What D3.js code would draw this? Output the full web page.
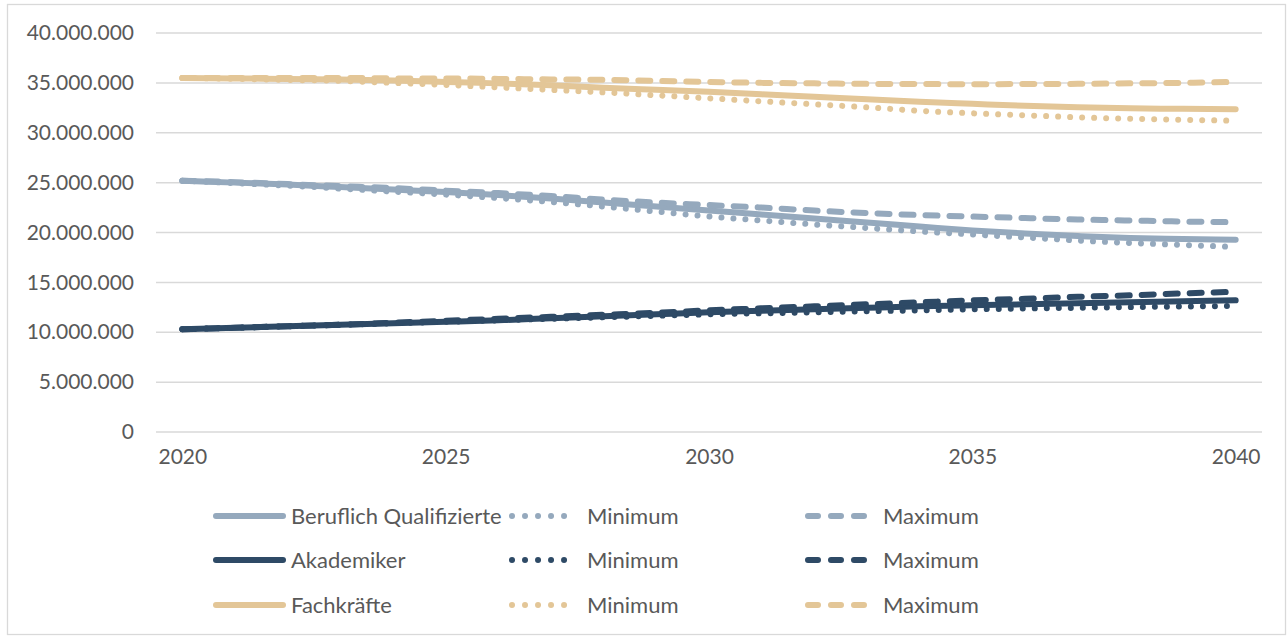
<!DOCTYPE html>
<html>
<head>
<meta charset="utf-8">
<script src="https://cdn.jsdelivr.net/npm/d3@7"></script>
<style>
  body { margin: 0; background: #fff; }
  text { font-family: Lato, "Open Sans", sans-serif; fill: #595959; }
</style>
</head>
<body>
<svg id="chart"></svg>
<script>
// years on the x axis
var years = d3.range(2020, 2041);
var yearLabels = [2020, 2025, 2030, 2035, 2040];
var yTicks = [0, 5e6, 10e6, 15e6, 20e6, 25e6, 30e6, 35e6, 40e6];

// values in millions
var berufMain = [25.2, 25.0, 24.8, 24.55, 24.3, 24.05, 23.75, 23.4, 23.0, 22.6, 22.2, 21.8, 21.4, 21.0, 20.6, 20.2, 19.9, 19.65, 19.45, 19.35, 19.27];
var berufMin  = [25.2, 24.95, 24.7, 24.4, 24.1, 23.8, 23.45, 23.05, 22.6, 22.1, 21.6, 21.2, 20.8, 20.45, 20.1, 19.8, 19.5, 19.2, 18.95, 18.75, 18.55];
var berufMax  = [25.2, 25.05, 24.85, 24.65, 24.45, 24.2, 23.95, 23.65, 23.3, 23.0, 22.75, 22.5, 22.2, 21.95, 21.75, 21.6, 21.45, 21.3, 21.2, 21.1, 21.03];

var akadMain = [10.3, 10.45, 10.6, 10.75, 10.9, 11.05, 11.2, 11.4, 11.6, 11.8, 12.0, 12.15, 12.3, 12.45, 12.6, 12.7, 12.8, 12.9, 13.0, 13.1, 13.2];
var akadMin  = [10.3, 10.45, 10.6, 10.75, 10.9, 11.05, 11.2, 11.35, 11.5, 11.65, 11.8, 11.9, 12.0, 12.1, 12.2, 12.3, 12.38, 12.45, 12.52, 12.58, 12.64];
var akadMax  = [10.3, 10.45, 10.6, 10.75, 10.95, 11.15, 11.35, 11.55, 11.75, 11.95, 12.2, 12.4, 12.6, 12.8, 13.0, 13.2, 13.35, 13.55, 13.7, 13.9, 14.05];

var fachMain = [35.5, 35.45, 35.4, 35.35, 35.25, 35.1, 34.95, 34.75, 34.5, 34.3, 34.1, 33.85, 33.6, 33.35, 33.1, 32.9, 32.7, 32.55, 32.45, 32.4, 32.35];
var fachMin  = [35.5, 35.4, 35.3, 35.2, 35.0, 34.8, 34.55, 34.3, 34.05, 33.75, 33.45, 33.15, 32.85, 32.55, 32.2, 31.95, 31.75, 31.55, 31.4, 31.3, 31.2];
var fachMax  = [35.5, 35.5, 35.5, 35.5, 35.45, 35.45, 35.4, 35.35, 35.3, 35.2, 35.1, 35.0, 34.95, 34.9, 34.88, 34.87, 34.88, 34.9, 34.95, 35.0, 35.1];

var groupNames = ["Beruflich Qualifizierte", "Akademiker", "Fachkräfte"];
var groupColors = ["#95a9bd", "#2e4a66", "#e3c697"];

// series table built from the arrays above
var series = [
  {group: 0, kind: "main", values: berufMain},
  {group: 0, kind: "min", values: berufMin},
  {group: 0, kind: "max", values: berufMax},
  {group: 1, kind: "main", values: akadMain},
  {group: 1, kind: "min", values: akadMin},
  {group: 1, kind: "max", values: akadMax},
  {group: 2, kind: "main", values: fachMain},
  {group: 2, kind: "min", values: fachMin},
  {group: 2, kind: "max", values: fachMax}
];

var dashFor = {main: null, min: "0.01,12", max: "12,12"};
var labelFor = {min: "Minimum", max: "Maximum"};

var width = 1288, height = 636;
var svg = d3.select("#chart").attr("width", width).attr("height", height);

// outer frame
svg.append("rect")
  .attr("x", 7.5).attr("y", 4.5)
  .attr("width", 1278).attr("height", 630)
  .attr("fill", "none")
  .attr("stroke", "#d9d9d9")
  .attr("stroke-width", 1.3);

var xScale = d3.scalePoint().domain(years).range([156, 1262]).padding(0.5);
var yScale = d3.scaleLinear().domain([0, 40e6]).range([432, 33]);

var de = d3.formatLocale({decimal: ",", thousands: ".", grouping: [3], currency: ["", " €"]});
var fmt = de.format(",d");

// gridlines
svg.append("g")
  .selectAll("line")
  .data(yTicks)
  .enter()
  .append("line")
  .attr("x1", 156).attr("x2", 1262)
  .attr("y1", function(d) { return yScale(d); })
  .attr("y2", function(d) { return yScale(d); })
  .attr("stroke", "#d9d9d9")
  .attr("stroke-width", 1.5);

// y axis labels
var yAxis = d3.axisLeft(yScale).tickValues(yTicks).tickFormat(fmt).tickSize(0).tickPadding(0);
svg.append("g")
  .attr("transform", "translate(134,0)")
  .call(yAxis)
  .call(function(g) { g.select(".domain").remove(); })
  .selectAll("text")
  .style("font-size", "21px")
  .attr("fill", "#595959");

// x axis labels
var xAxis = d3.axisBottom(xScale).tickValues(yearLabels).tickSize(0).tickPadding(0);
svg.append("g")
  .attr("transform", "translate(0,449)")
  .call(xAxis)
  .call(function(g) { g.select(".domain").remove(); })
  .selectAll("text")
  .style("font-size", "21px")
  .attr("fill", "#595959");

svg.selectAll("g[font-family]").attr("font-family", null).attr("font-size", null);

var line = d3.line()
  .x(function(d, i) { return xScale(years[i]); })
  .y(function(d) { return yScale(d * 1e6); })
  .curve(d3.curveMonotoneX);

svg.append("g")
  .selectAll("path")
  .data(series)
  .enter()
  .append("path")
  .attr("d", function(s) { return line(s.values); })
  .attr("fill", "none")
  .attr("stroke", function(s) { return groupColors[s.group]; })
  .attr("stroke-width", 6)
  .attr("stroke-linecap", "round")
  .attr("stroke-linejoin", "round")
  .attr("stroke-dasharray", function(s) { return dashFor[s.kind]; });

// legend: three rows, three columns
var legendRows = [516, 560, 605];
var legendCols = {main: {x1: 216, x2: 283, tx: 291}, min: {x1: 512, x2: 576, tx: 587}, max: {x1: 808, x2: 868, tx: 883}};

var legend = svg.append("g");
series.forEach(function(s) {
  var col = legendCols[s.kind];
  var ly = legendRows[s.group];
  legend.append("line")
    .attr("x1", col.x1).attr("x2", col.x2)
    .attr("y1", ly).attr("y2", ly)
    .attr("stroke", groupColors[s.group])
    .attr("stroke-width", 6)
    .attr("stroke-linecap", "round")
    .attr("stroke-dasharray", s.kind == "min" ? "0.01,13" : (s.kind == "max" ? "10,13" : null));
  legend.append("text")
    .attr("x", col.tx).attr("y", ly + 8)
    .style("font-size", "22px")
    .text(s.kind == "main" ? groupNames[s.group] : labelFor[s.kind]);
});
</script>
</body>
</html>
